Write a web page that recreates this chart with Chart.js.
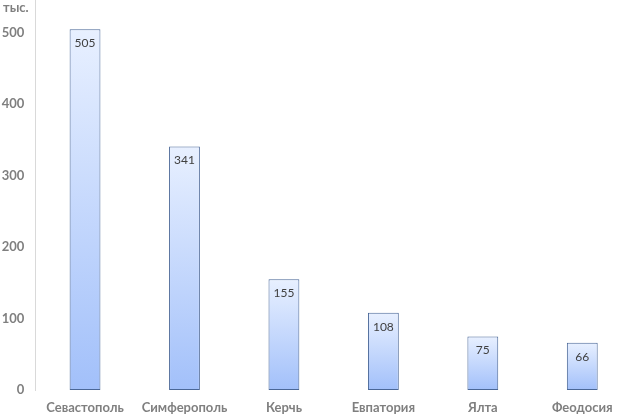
<!DOCTYPE html>
<html>
<head>
<meta charset="utf-8">
<script src="https://cdn.jsdelivr.net/npm/chart.js@4"></script>
<style>
html,body{margin:0;padding:0;background:#fff;overflow:hidden;}
#wrap{width:632px;height:419px;position:relative;}
</style>
</head>
<body>
<div id="wrap"><canvas id="c"></canvas></div>
<script>
const categories = ['Севастополь','Симферополь','Керчь','Евпатория','Ялта','Феодосия'];
const values = [505, 341, 155, 108, 75, 66];
const unitLabel = 'тыс.';
const yTicks = [0, 100, 200, 300, 400, 500];

const labelsPlugin = {
  id: 'labelsPlugin',
  afterDatasetsDraw(chart) {
    const ctx = chart.ctx;
    const meta = chart.getDatasetMeta(0);
    ctx.save();
    ctx.font = '12px Lato, sans-serif';
    ctx.fillStyle = '#404040';
    ctx.textAlign = 'center';
    ctx.textBaseline = 'middle';
    meta.data.forEach((bar, i) => {
      ctx.fillText(String(values[i]), bar.x, bar.y + 14);
    });
    ctx.font = 'bold 13px Lato, sans-serif';
    ctx.fillStyle = '#7f7f7f';
    ctx.textAlign = 'left';
    ctx.fillText(unitLabel, 3, 8);
    ctx.restore();
  }
};

new Chart(document.getElementById('c'), {
  type: 'bar',
  data: {
    labels: categories,
    datasets: [{
      data: values,
      borderColor: '#4a6797',
      borderWidth: 1,
      borderSkipped: false,
      barPercentage: 0.31,
      categoryPercentage: 1,
      backgroundColor(context) {
        const chart = context.chart;
        const ya = chart.scales.y;
        if (!chart.chartArea || !ya || context.dataIndex === undefined) return '#c8dafc';
        const top = ya.getPixelForValue(values[context.dataIndex]);
        const bottom = ya.getPixelForValue(0);
        if (!isFinite(top) || !isFinite(bottom) || top === bottom) return '#c8dafc';
        const g = chart.ctx.createLinearGradient(0, top, 0, bottom);
        g.addColorStop(0, '#e8f0ff');
        g.addColorStop(1, '#a2c0fa');
        return g;
      }
    }]
  },
  options: {
    responsive: true,
    maintainAspectRatio: false,
    animation: false,
    layout: { padding: 0 },
    plugins: { legend: { display: false }, tooltip: { enabled: false } },
    scales: {
      x: {
        grid: { display: false, drawTicks: false },
        border: { display: false },
        ticks: { color: '#7f7f7f', font: { family: 'Lato', size: 13, weight: 'bold' }, padding: 10, maxRotation: 0, autoSkip: false },
        afterFit(s) { s.height = 29; s.paddingLeft = 0; s.paddingRight = 0; }
      },
      y: {
        min: 0,
        max: 546,
        grid: { display: false, drawTicks: false },
        border: { display: true, color: '#d9d9d9', width: 1 },
        afterBuildTicks(s) { s.ticks = yTicks.map(v => ({ value: v })); },
        ticks: { color: '#7f7f7f', font: { family: 'Lato', size: 13, weight: 'bold' }, padding: 11 },
        afterFit(s) { s.width = 35.3; s.paddingTop = 0; s.paddingBottom = 0; }
      }
    }
  },
  plugins: [labelsPlugin]
});
</script>
</body>
</html>
